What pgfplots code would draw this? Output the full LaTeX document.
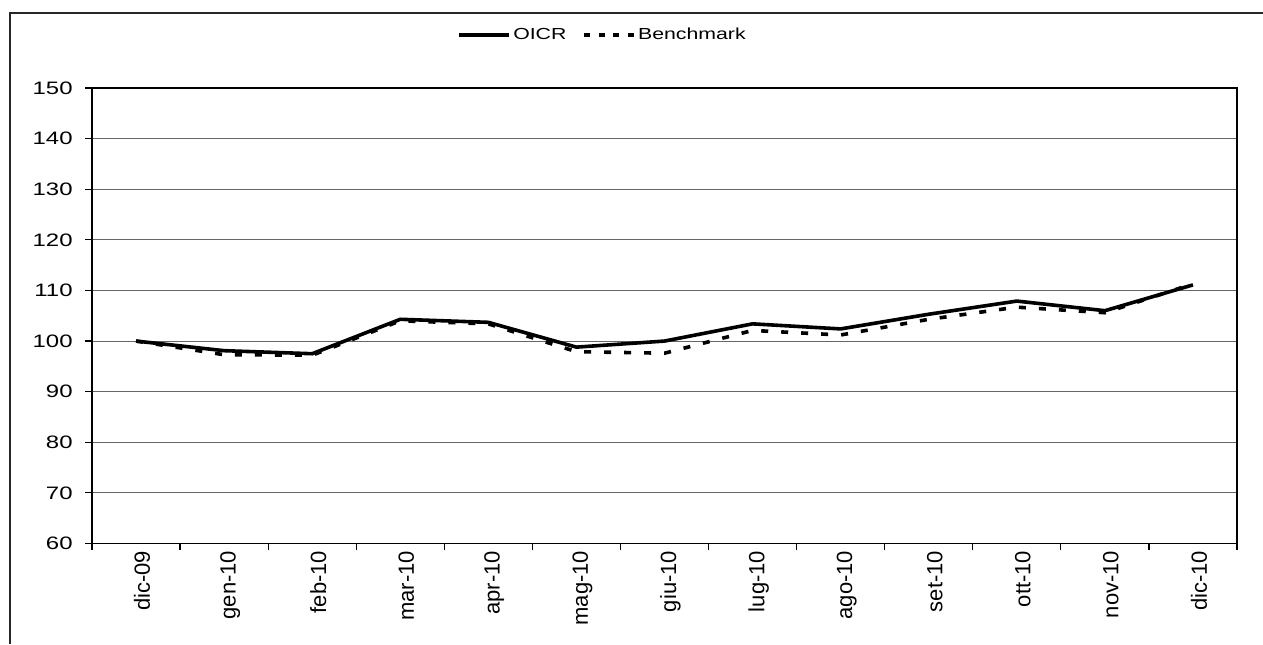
\documentclass[border=0pt]{standalone}
\usepackage{fontspec}
\setmainfont{Liberation Sans}
\newfontfamily\widefont{Liberation Sans}[FakeStretch=1.33]
\usepackage{pgfplots}
\pgfplotsset{compat=1.18}

\begin{document}
\begin{tikzpicture}
  % page = 1263x644 px at 0.5pt per px
  \useasboundingbox (0pt,0pt) rectangle (631.5pt,322pt);
  \draw[line width=1pt, black!85] (5pt,0pt) -- (5pt,315.5pt) -- (631.5pt,315.5pt);
  \begin{axis}[
    at={(46pt,50.25pt)}, anchor=south west,
    scale only axis,
    width=572.5pt, height=227.75pt,
    xmin=-0.5, xmax=12.5,
    ymin=60, ymax=150,
    xtick={0,...,12},
    xticklabels={dic-09,gen-10,feb-10,mar-10,apr-10,mag-10,giu-10,lug-10,ago-10,set-10,ott-10,nov-10,dic-10},
    major x tick style={draw=none},
    minor xtick={-0.5,0.5,...,12.5},
    ytick={60,70,...,150},
    tick pos=left,
    tick align=outside,
    major tick length=3.5pt,
    minor tick length=3pt,
    tick style={black, line width=0.6pt},
    ymajorgrids,
    grid style={black!60, line width=0.5pt},
    axis line style={black, line width=0.9pt},
    xticklabel style={rotate=90, anchor=east, font=\fontsize{11}{12}\selectfont, inner sep=0pt, yshift=-3pt},
    yticklabel style={font=\widefont\fontsize{9}{10}\selectfont, inner sep=0pt, xshift=-6pt},
    /pgf/number format/assume math mode=true,
    legend style={at={(0.446,1)}, anchor=center, yshift=26.5pt, draw=none,
      font=\widefont\fontsize{8}{9}\selectfont, legend columns=-1,
      /tikz/every even column/.append style={column sep=7pt},
      nodes={inner sep=1pt}},
    legend image code/.code={\draw[#1] (0pt,0pt) -- (25pt,0pt);},
  ]
    \addplot[black, line width=1.8pt] coordinates {
      (0,100.0) (1,98.1) (2,97.5) (3,104.3) (4,103.7) (5,98.8) (6,100.0)
      (7,103.4) (8,102.4) (9,105.3) (10,107.9) (11,106.0) (12,111.1)
    };
    \addlegendentry{OICR}
    \addplot[black, line width=1.8pt, dash pattern=on 3.5pt off 6.5pt, forget plot] coordinates {
      (0,100.0) (1,97.3) (2,97.2) (3,104.0) (4,103.4) (5,97.9) (6,97.6)
      (7,102.1) (8,101.2) (9,104.3) (10,106.7) (11,105.6) (12,111.3)
    };
    \addlegendimage{black, line width=1.8pt, dash pattern=on 2.9pt off 4.4pt}
    \addlegendentry{Benchmark}
  \end{axis}
\end{tikzpicture}
\end{document}
